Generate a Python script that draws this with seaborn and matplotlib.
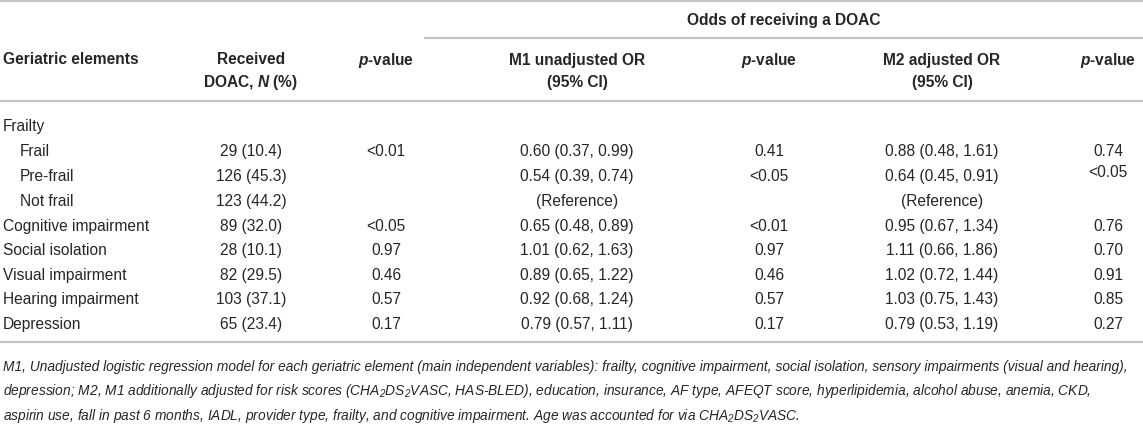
import matplotlib
matplotlib.use("Agg")
import matplotlib.pyplot as plt
import seaborn as sns

# table content
elements = ["Frailty", "Frail", "Pre-frail", "Not frail", "Cognitive impairment",
            "Social isolation", "Visual impairment", "Hearing impairment", "Depression"]
indented = [False, True, True, True, False, False, False, False, False]
received = ["", "29 (10.4)", "126 (45.3)", "123 (44.2)", "89 (32.0)", "28 (10.1)",
            "82 (29.5)", "103 (37.1)", "65 (23.4)"]
p_received = ["", "<0.01", "", "", "<0.05", "0.97", "0.46", "0.57", "0.17"]
m1_or = ["", "0.60 (0.37, 0.99)", "0.54 (0.39, 0.74)", "(Reference)", "0.65 (0.48, 0.89)",
         "1.01 (0.62, 1.63)", "0.89 (0.65, 1.22)", "0.92 (0.68, 1.24)", "0.79 (0.57, 1.11)"]
p_m1 = ["", "0.41", "<0.05", "", "<0.01", "0.97", "0.46", "0.57", "0.17"]
m2_or = ["", "0.88 (0.48, 1.61)", "0.64 (0.45, 0.91)", "(Reference)", "0.95 (0.67, 1.34)",
         "1.11 (0.66, 1.86)", "1.02 (0.72, 1.44)", "1.03 (0.75, 1.43)", "0.79 (0.53, 1.19)"]
p_m2 = ["", "0.74", "<0.05", "", "0.76", "0.70", "0.91", "0.85", "0.27"]

header_top = "Odds of receiving a DOAC"
header_line1 = ["Geriatric elements", "Received", "$\\mathbfit{p}$-value", "M1 unadjusted OR",
                "$\\mathbfit{p}$-value", "M2 adjusted OR", "$\\mathbfit{p}$-value"]
header_line2 = ["", "DOAC, $\\mathbfit{N}$ (%)", "", "(95% CI)", "", "(95% CI)", ""]

footnote = [
    "M1, Unadjusted logistic regression model for each geriatric element (main independent variables): "
    "frailty, cognitive impairment, social isolation, sensory impairments (visual and hearing),",
    "depression; M2, M1 additionally adjusted for risk scores (CHA$_{2}$DS$_{2}$VASC, HAS-BLED), education, "
    "insurance, AF type, AFEQT score, hyperlipidemia, alcohol abuse, anemia, CKD,",
    "aspirin use, fall in past 6 months, IADL, provider type, frailty, and cognitive impairment. "
    "Age was accounted for via CHA$_{2}$DS$_{2}$VASC.",
]

sns.set_theme(style="white")
plt.rcParams["font.family"] = ["Liberation Sans", "DejaVu Sans"]
plt.rcParams["mathtext.fontset"] = "custom"
plt.rcParams["mathtext.rm"] = "Liberation Sans:italic"
plt.rcParams["mathtext.it"] = "Liberation Sans:italic"
plt.rcParams["mathtext.bf"] = "Liberation Sans:bold"
plt.rcParams["mathtext.bfit"] = "Liberation Sans:bold:italic"

W, H = 1143, 439
fig = plt.figure(figsize=(W / 100, H / 100), dpi=100)
ax = fig.add_axes([0, 0, 1, 1])
ax.set_xlim(0, W)
ax.set_ylim(H, 0)
ax.axis("off")

txt = "#262626"
line_c = "#c4c4c4"
fs = 11.2

# rules
ax.plot([0, W], [2, 2], color=line_c, lw=1.6)
ax.plot([425, W], [39, 39], color=line_c, lw=1.6)
ax.plot([0, W], [102, 102], color=line_c, lw=1.6)
ax.plot([0, W], [343, 343], color=line_c, lw=1.6)

ax.text(784, 20, header_top, ha="center", va="center", fontsize=fs, fontweight="bold", color=txt)

col_x = [251, 386, 577, 769, 942, 1108]
head_x = [3] + col_x
for i, hx in enumerate(head_x):
    ha = "left" if i == 0 else "center"
    ax.text(hx, 60, header_line1[i], ha=ha, va="center", fontsize=fs,
            fontweight="bold", color=txt)
    if header_line2[i]:
        ax.text(hx, 83, header_line2[i], ha=ha, va="center", fontsize=fs,
                fontweight="bold", color=txt)

row_y = [127, 152, 177, 202, 227, 251, 276, 300, 325]
columns = [received, p_received, m1_or, p_m1, m2_or, p_m2]

for r, y in enumerate(row_y):
    ax.text(20 if indented[r] else 3, y, elements[r], ha="left", va="center",
            fontsize=fs, color=txt)
    for cx, col in zip(col_x, columns):
        dy = -4 if (col is p_m2 and r == 2) else 0
        ax.text(cx, y + dy, col[r], ha="center", va="center", fontsize=fs, color=txt)

for k, line in enumerate(footnote):
    ax.text(3, 367 + 24.5 * k, line, ha="left", va="center", fontsize=9.9,
            style="italic", color=txt)

fig.savefig("out.png", dpi=100)
